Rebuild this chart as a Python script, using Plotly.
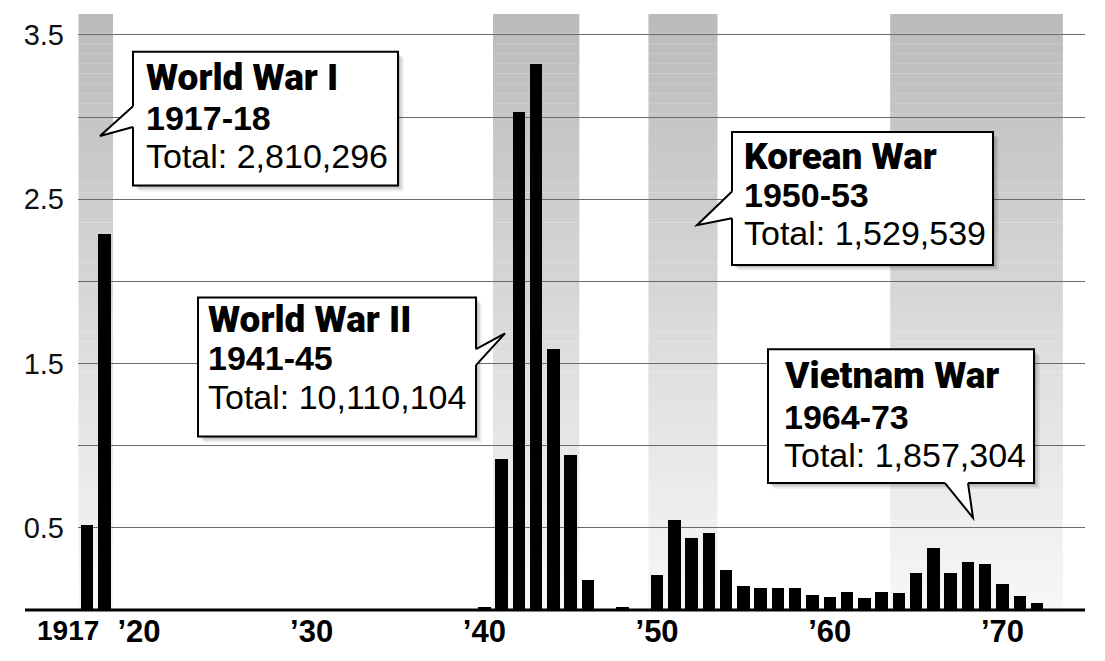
import plotly.graph_objects as go

# ---------------- data ----------------
years = [1917, 1918, 1940, 1941, 1942, 1943, 1944, 1945, 1946, 1948,
         1950, 1951, 1952, 1953, 1954, 1955, 1956, 1957, 1958, 1959,
         1960, 1961, 1962, 1963, 1964, 1965, 1966, 1967, 1968, 1969,
         1970, 1971, 1972]
inductees_millions = [0.515, 2.29, 0.02, 0.92, 3.03, 3.32, 1.59, 0.945, 0.18, 0.02,
                      0.215, 0.55, 0.437, 0.469, 0.246, 0.148, 0.132, 0.132, 0.136, 0.091,
                      0.079, 0.112, 0.075, 0.112, 0.106, 0.226, 0.378, 0.224, 0.293, 0.278,
                      0.159, 0.087, 0.043]

war_names = ["World War I", "World War II", "Korean War", "Vietnam War"]
war_periods = ["1917-18", "1941-45", "1950-53", "1964-73"]
war_totals = ["Total: 2,810,296", "Total: 10,110,104", "Total: 1,529,539", "Total: 1,857,304"]
war_first_year = [1917, 1941, 1950, 1964]
war_last_year = [1918, 1945, 1953, 1973]

y_tick_vals = [0.5, 1.0, 1.5, 2.0, 2.5, 3.0, 3.5]
y_tick_text = ["0.5", "", "1.5", "", "2.5", "", "3.5"]
x_tick_vals = [1920, 1930, 1940, 1950, 1960, 1970]
x_tick_text = ["\u201920", "\u201930", "\u201940", "\u201950", "\u201960", "\u201970"]
first_label = "1917"

# ---------------- layout geometry (pixels) ----------------
W, H = 1105, 661
L, R, T, B = 78, 1085, 14, 615
X_RANGE = [1916.47, 1974.78]
Y_MAX = 3.627


def px(x):
    return (x - L) / (R - L)


def py(y):
    return (B - y) / (B - T)


TITLE_FONT = "Roboto, Liberation Sans, sans-serif"
BODY_FONT = "Liberation Sans, Arial, Helvetica, sans-serif"

# callout placement: box (x0, y0, x1, y1), pointer (base1, tip, base2), text x, line centres
callouts = [
    dict(box=(133, 52, 398, 187), ptr=((133, 107), (100, 137), (133, 128)),
         tx=144, lines=(78.5, 118.5, 157.5)),
    dict(box=(198, 300, 476, 440), ptr=((476, 352), (505, 336), (476, 368)),
         tx=206, lines=(322.5, 360.5, 400)),
    dict(box=(732, 133, 993, 267), ptr=((732, 193), (697, 227), (732, 220)),
         tx=742, lines=(158, 197, 235)),
    dict(box=(768, 352, 1034, 487), ptr=((945, 487), (973, 522), (968, 487)),
         tx=782, lines=(378.5, 420, 458.5)),
]

fig = go.Figure()

fig.add_trace(go.Bar(
    x=years, y=inductees_millions, width=0.72,
    marker=dict(color="black", line=dict(width=0)),
    hoverinfo="x+y", showlegend=False,
))

shapes = []

# gradient war bands
N = 60
for a, b in zip(war_first_year, war_last_year):
    for i in range(N):
        y0 = Y_MAX * i / N
        y1 = Y_MAX * (i + 1) / N
        t = (i + 0.5) / N  # 0 bottom -> 1 top
        c = int(round(248 - (248 - 186) * t))
        shapes.append(dict(type="rect", xref="x", yref="y", x0=a - 0.5, x1=b + 0.5,
                           y0=y0, y1=y1 + 0.001, layer="below",
                           fillcolor=f"rgb({c},{c},{c})", line=dict(width=0)))

# baseline
shapes.append(dict(type="line", xref="paper", yref="paper", x0=px(25), x1=1, y0=0, y1=0,
                   line=dict(color="black", width=3), layer="above"))

annotations = []
for k, cfg in enumerate(callouts):
    x0, y0, x1, y1 = cfg["box"]
    # soft shadow
    for off, op in ((2, 0.12), (4, 0.10), (6, 0.06)):
        shapes.append(dict(type="rect", xref="paper", yref="paper",
                           x0=px(x0 + off), x1=px(x1 + off), y0=py(y1 + off), y1=py(y0 + off),
                           fillcolor=f"rgba(0,0,0,{op})", line=dict(width=0), layer="above"))
    # box
    shapes.append(dict(type="rect", xref="paper", yref="paper",
                       x0=px(x0), x1=px(x1), y0=py(y1), y1=py(y0),
                       fillcolor="white", line=dict(color="black", width=2), layer="above"))
    # pointer fill (covers box border at base)
    (ax_, ay_), (tx_, ty_), (bx_, by_) = cfg["ptr"]
    if ax_ == bx_:
        d = 3 if ax_ == x0 else -3
        ia, ib = (ax_ + d, ay_), (bx_ + d, by_)
    else:
        d = -3 if ay_ == y1 else 3
        ia, ib = (ax_, ay_ + d), (bx_, by_ + d)
    fill_path = (f"M {px(ia[0])},{py(ia[1])} L {px(ax_)},{py(ay_)} L {px(tx_)},{py(ty_)} "
                 f"L {px(bx_)},{py(by_)} L {px(ib[0])},{py(ib[1])} Z")
    shapes.append(dict(type="path", xref="paper", yref="paper", path=fill_path,
                       fillcolor="white", line=dict(width=0), layer="above"))
    edge_path = f"M {px(ax_)},{py(ay_)} L {px(tx_)},{py(ty_)} L {px(bx_)},{py(by_)}"
    shapes.append(dict(type="path", xref="paper", yref="paper", path=edge_path,
                       fillcolor="rgba(0,0,0,0)", line=dict(color="black", width=2), layer="above"))

    tx = cfg["tx"]
    l1, l2, l3 = cfg["lines"]
    annotations.append(dict(xref="paper", yref="paper", x=px(tx), y=py(l1), xanchor="left",
                            yanchor="middle", showarrow=False, text=war_names[k],
                            font=dict(family=TITLE_FONT, size=37, color="black", weight=900)))
    annotations.append(dict(xref="paper", yref="paper", x=px(tx), y=py(l2), xanchor="left",
                            yanchor="middle", showarrow=False, text=f"<b>{war_periods[k]}</b>",
                            font=dict(family=BODY_FONT, size=34, color="black")))
    annotations.append(dict(xref="paper", yref="paper", x=px(tx), y=py(l3), xanchor="left",
                            yanchor="middle", showarrow=False, text=war_totals[k],
                            font=dict(family=BODY_FONT, size=34, color="black")))

# "1917" label, right-aligned next to the first bars
annotations.append(dict(xref="x", yref="paper", x=years[0], y=0, xanchor="right", yanchor="top",
                        xshift=14, yshift=-3, showarrow=False, text=f"<b>{first_label}</b>",
                        font=dict(family=BODY_FONT, size=28, color="black")))

fig.update_layout(
    width=W, height=H,
    margin=dict(l=L, r=W - R, t=T, b=H - B, pad=0),
    paper_bgcolor="white", plot_bgcolor="white",
    bargap=0, showlegend=False,
    shapes=shapes, annotations=annotations,
    xaxis=dict(range=X_RANGE, tickmode="array", tickvals=x_tick_vals, ticktext=x_tick_text,
               showgrid=False, zeroline=False, showline=False, ticks="",
               tickfont=dict(family=BODY_FONT, size=31, color="black", weight="bold")),
    yaxis=dict(range=[0, Y_MAX], tickmode="array", tickvals=y_tick_vals, ticktext=y_tick_text,
               showgrid=True, gridcolor="#6a6a6a", gridwidth=1.3, zeroline=False,
               showline=False, ticks="", ticklabelstandoff=13,
               tickfont=dict(family=BODY_FONT, size=29, color="#111111")),
)

fig.write_html("out.html", config={"displayModeBar": False},
               post_script="document.body.style.margin='0';document.body.style.overflow='hidden';")
